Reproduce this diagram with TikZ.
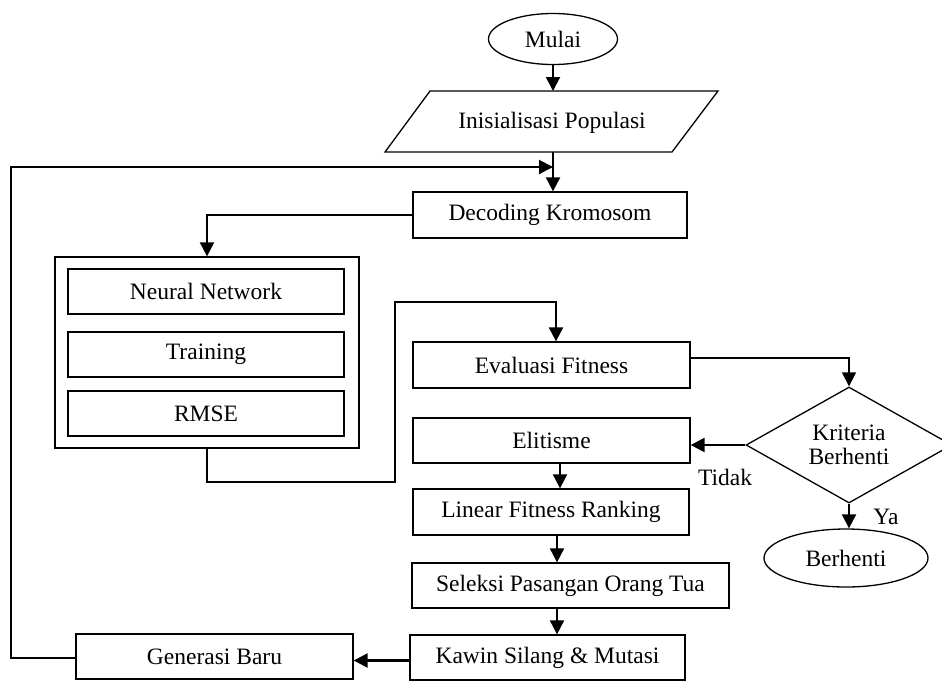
\documentclass[tikz,border=0pt]{standalone}
\usepackage{fontspec}
\setmainfont{Liberation Serif}
\usetikzlibrary{arrows.meta,shapes.geometric}
\begin{document}
\begin{tikzpicture}[x=1pt,y=-1pt,
  every node/.style={font=\fontsize{23.5}{24}\selectfont},
  box/.style={draw, line width=1.3pt, rectangle, inner sep=0pt},
  oval/.style={draw, ellipse, line width=1.3pt, inner sep=0pt},
  arr/.style={line width=2pt, -{Triangle[width=14pt,length=14pt]}},
  ln/.style={line width=1.3pt}]
\useasboundingbox (0,0) rectangle (942,681);

% start
\node[oval, minimum width=129pt, minimum height=51pt] (mulai) at (553,39) {Mulai};

% initialisation (parallelogram)
\coordinate (pTL) at (430,91);
\coordinate (pTR) at (718,91);
\coordinate (pBR) at (672,152);
\coordinate (pBL) at (385,152);
\coordinate (initTop) at (553,91);
\coordinate (initBot) at (553,152);
\draw[ln] (pTL) -- (pTR) -- (pBR) -- (pBL) -- cycle;
\node (init) at (552,123) {Inisialisasi Populasi};
\draw[arr] (mulai.south) -- (initTop);

% decoding
\node[box, minimum width=274pt, minimum height=46pt] (dec) at (550,215) {Decoding Kromosom};
\draw[arr] (initBot) -- (initBot |- dec.north);

% neural network block
\node[box, minimum width=304pt, minimum height=191pt] (outer) at (207,352.5) {};
\node[box, minimum width=276pt, minimum height=45pt] (nn) at (206,291.5) {Neural Network};
\node[box, minimum width=276pt, minimum height=45pt] (tr) at (206,354.5) {Training};
\node[box, minimum width=276pt, minimum height=45pt] (rmse) at (206,413.5) {RMSE};
\draw[arr] (dec.west) -| (outer.north);

% evaluation
\node[box, minimum width=277pt, minimum height=46pt] (ev) at (551.5,365) {Evaluasi Fitness};
\coordinate (c1) at (207,482);
\coordinate (c2) at (395,482);
\coordinate (c3) at (395,302);
\coordinate (c4) at (556,302);
\draw[arr] (outer.south) -- (c1) -- (c2) -- (c3) -- (c4) -- (c4 |- ev.north);

% decision
\node[draw, diamond, aspect=1.78, line width=1.3pt, minimum width=206pt, minimum height=116pt, inner sep=0pt, align=center] (dia) at (849,445) {Kriteria\\Berhenti};
\draw[arr, line width=1.3pt] ([yshift=7pt]ev.east) -| (dia.north);

% elitism chain
\node[box, minimum width=277pt, minimum height=45pt] (el) at (551.5,440.5) {Elitisme};
\draw[arr, line width=2.4pt] (dia.west) -- (dia.west -| el.east);
\node (tidak) at (725,477) {Tidak};

\node[box, minimum width=276pt, minimum height=46pt] (lin) at (551,512) {Linear Fitness Ranking};
\draw[arr] ([xshift=8.5pt]el.south) -- ([xshift=8.5pt]el.south |- lin.north);

\node[box, minimum width=317pt, minimum height=45pt] (sel) at (570.5,585.5) {Seleksi Pasangan Orang Tua};
\draw[arr] ([xshift=6pt]lin.south) -- ([xshift=6pt]lin.south |- sel.north);

\node[box, minimum width=275pt, minimum height=45pt] (kaw) at (547.5,657.5) {Kawin Silang \& Mutasi};
\draw[arr] ([xshift=-13.5pt]sel.south) -- ([xshift=-13.5pt]sel.south |- kaw.north);

\node[box, minimum width=277pt, minimum height=45pt] (gen) at (214.5,656.5) {Generasi Baru};
\draw[arr, line width=2.4pt] ([yshift=-3pt]kaw.west) -- ([yshift=-3pt]kaw.west -| gen.east);

% feedback loop
\coordinate (fb) at (11,167);
\draw[arr] ([yshift=-1.5pt]gen.west) -| (fb) -- (initBot |- fb);

% stop
\node[oval, minimum width=164pt, minimum height=58pt] (stop) at (846,558) {Berhenti};
\draw[arr] (dia.south) -- (dia.south |- stop.north);
\node (ya) at (886,517) {Ya};
\end{tikzpicture}
\end{document}
